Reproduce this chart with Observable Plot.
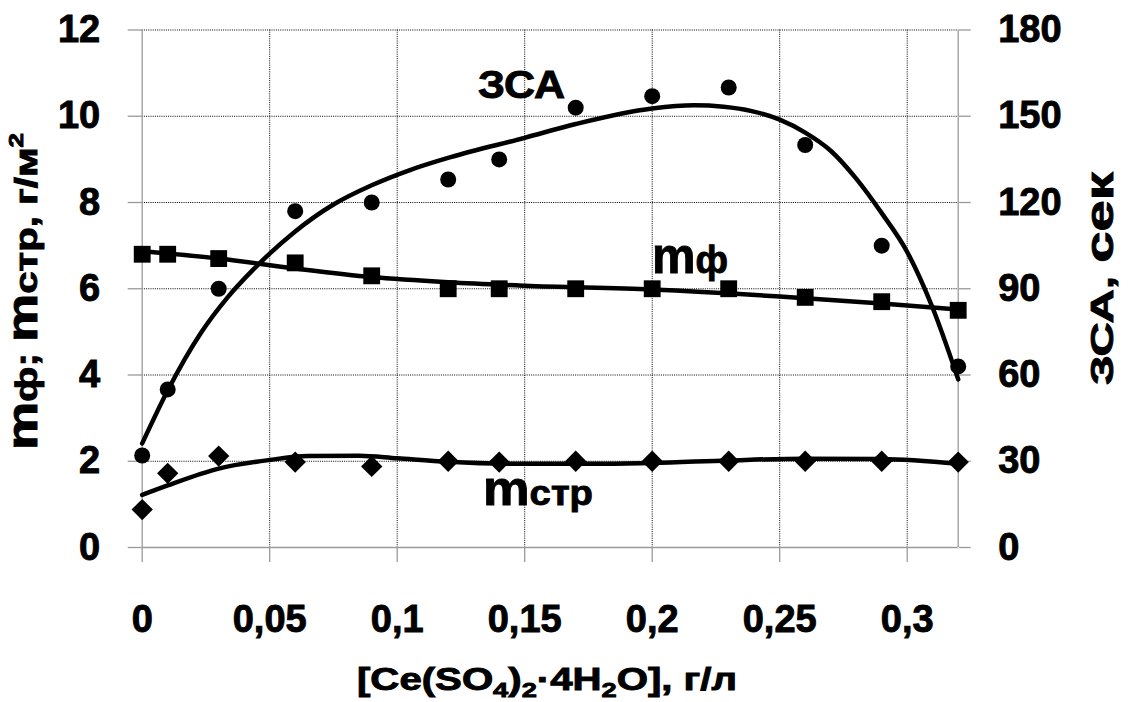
<!DOCTYPE html>
<html>
<head>
<meta charset="utf-8">
<script src="https://cdn.jsdelivr.net/npm/d3@7"></script>
<script src="https://cdn.jsdelivr.net/npm/@observablehq/plot@0.6"></script>
<style>
  html, body { margin: 0; padding: 0; background: #fff; }
  svg { display: block; }
  #chart svg text { stroke: #000; stroke-width: 0.9px; paint-order: stroke; }
</style>
</head>
<body>
<div id="chart"></div>
<script>
// ---- data ----
const conc = [0, 0.01, 0.03, 0.06, 0.09, 0.12, 0.14, 0.17, 0.2, 0.23, 0.26, 0.29, 0.32];
const zsa  = [32, 55, 90, 117, 120, 128, 135, 153, 157, 160, 140, 105, 63];          // ЗСА, сек (right axis)
const mf   = [6.8, 6.8, 6.7, 6.6, 6.3, 6.0, 6.0, 6.0, 6.0, 6.0, 5.8, 5.7, 5.5];      // mф, г/м²
const mstr = [0.88, 1.72, 2.12, 1.98, 1.88, 2.0, 1.98, 2.0, 2.0, 2.0, 2.0, 2.0, 1.98]; // mстр, г/м²

// trend lines as drawn in the picture
const zsaFitX  = [0, 0.01, 0.023, 0.0335, 0.0437, 0.0594, 0.075, 0.09, 0.105, 0.121, 0.15, 0.17, 0.2, 0.2165, 0.228, 0.239, 0.25, 0.26, 0.27, 0.28, 0.29, 0.3, 0.31, 0.32];
const zsaFit   = [36.2, 54.6, 74.6, 87, 96.8, 109.5, 119.3, 126, 131.3, 135.8, 142.5, 147.3, 152.7, 153.8, 153.3, 151.8, 148.8, 144.3, 138, 128.3, 116.3, 102.8, 83.3, 58.5];
const mfFitX   = [0, 0.03, 0.06, 0.09, 0.12, 0.15, 0.2, 0.25, 0.29, 0.32];
const mfFit    = [6.87, 6.7, 6.47, 6.27, 6.15, 6.07, 5.98, 5.82, 5.66, 5.52];
const mstrFitX = [0, 0.01, 0.03, 0.05, 0.065, 0.085, 0.1, 0.12, 0.15, 0.17, 0.2, 0.23, 0.26, 0.29, 0.32];
const mstrFit  = [1.22, 1.44, 1.83, 2.03, 2.12, 2.13, 2.07, 1.99, 1.94, 1.94, 1.96, 2.02, 2.06, 2.05, 1.94];

// ticks
const xTicks = [0, 0.05, 0.1, 0.15, 0.2, 0.25, 0.3];
const yTicks = [0, 2, 4, 6, 8, 10, 12];
const yRightFactor = 15; // 12 -> 180

// texts
const labelZSA = "ЗСА";
const labelMf = ["m", "ф"];
const labelMstr = ["m", "стр"];
const rightLabel = ["ЗСА, ", "сек"];
const leftLabel = ["m", "ф; ", "m", "стр, г/м", "2"];
const xLabel = ["[Ce(SO", "4", ")", "2", "·4H", "2", "O], г/л"];

const FONT = "'Liberation Sans', Arial, Helvetica, sans-serif";

const pts = conc.map((x, i) => ({x, zsa: zsa[i], mf: mf[i], mstr: mstr[i]}));
const zsaLine = zsaFitX.map((x, i) => ({x, y: zsaFit[i]}));
const mfLine = mfFitX.map((x, i) => ({x, y: mfFit[i]}));
const mstrLine = mstrFitX.map((x, i) => ({x, y: mstrFit[i]}));

const fmtX = d => String(d).replace(".", ",");
const gridStyle = {stroke: "#000", strokeOpacity: 1, strokeWidth: 1, strokeDasharray: "1,1.2"};

const plot = Plot.plot({
  width: 1131,
  height: 702,
  marginLeft: 141.7,
  marginRight: 173.3,
  marginTop: 29.5,
  marginBottom: 155,
  style: {fontFamily: FONT, background: "#fff", color: "#000"},
  x: {domain: [0, 0.32]},
  y: {domain: [0, 12]},
  marks: [
    Plot.gridX(xTicks.filter(d => d > 0), gridStyle),
    Plot.gridY(yTicks.filter(d => d > 0), gridStyle),
    Plot.ruleX([0, 0.32], {stroke: "#9a9a9a", strokeWidth: 1.3}),
    Plot.ruleY([0], {stroke: "#9a9a9a", strokeWidth: 1.3}),
    Plot.axisX(xTicks, {tickSize: 15, tickPadding: 43, fontSize: 38, fontWeight: "bold",
      stroke: "#9a9a9a", strokeWidth: 1.3, tickFormat: fmtX, label: null, fill: "#000"}),
    Plot.axisY(yTicks, {anchor: "left", tickSize: 14, tickPadding: 28, fontSize: 38, fontWeight: "bold",
      stroke: "#9a9a9a", strokeWidth: 1.3, label: null, fill: "#000"}),
    Plot.axisY(yTicks, {anchor: "right", tickSize: 12, tickPadding: 28, fontSize: 38, fontWeight: "bold",
      stroke: "#9a9a9a", strokeWidth: 1.3, label: null, fill: "#000", tickFormat: d => d * yRightFactor}),
    Plot.line(zsaLine, {x: "x", y: d => d.y / yRightFactor, curve: "monotone-x", stroke: "#000", strokeWidth: 4.5}),
    Plot.line(mfLine, {x: "x", y: "y", curve: "monotone-x", stroke: "#000", strokeWidth: 4.5}),
    Plot.line(mstrLine, {x: "x", y: "y", curve: "monotone-x", stroke: "#000", strokeWidth: 4.5}),
    Plot.dot(pts, {x: "x", y: d => d.zsa / yRightFactor, symbol: "circle", r: 8, fill: "#000"}),
    Plot.dot(pts, {x: "x", y: "mf", symbol: "square", r: 9.5, fill: "#000"}),
    Plot.dot(pts, {x: "x", y: "mstr", symbol: "diamond2", r: 9.6, fill: "#000"})
  ]
});

document.getElementById("chart").appendChild(plot);
const svg = d3.select(plot);

function addText(opts, parts) {
  const t = svg.append("text")
    .attr("font-family", FONT)
    .attr("font-weight", "bold")
    .attr("fill", "#000")
    .attr("text-anchor", opts.anchor || "start");
  if (opts.transform) t.attr("transform", opts.transform);
  if (opts.x != null) t.attr("x", opts.x);
  if (opts.y != null) t.attr("y", opts.y);
  if (opts.textLength) t.attr("textLength", opts.textLength).attr("lengthAdjust", "spacingAndGlyphs");
  parts.forEach(p => {
    const s = t.append("tspan").attr("font-size", p.size).text(p.text);
    if (p.dy) s.attr("dy", p.dy);
  });
  return t;
}

// annotations
addText({x: 478, y: 98, textLength: 87}, [{text: labelZSA, size: 38}]);
addText({x: 652, y: 273, textLength: 76}, [{text: labelMf[0], size: 50}, {text: labelMf[1], size: 38}]);
addText({x: 483, y: 505, textLength: 110}, [{text: labelMstr[0], size: 48}, {text: labelMstr[1], size: 35}]);

// left axis label (rotated)
addText({transform: "translate(37,450) rotate(-90)", textLength: 317}, [
  {text: leftLabel[0], size: 42},
  {text: leftLabel[1], size: 31},
  {text: leftLabel[2], size: 42},
  {text: leftLabel[3], size: 31},
  {text: leftLabel[4], size: 20, dy: -14}
]);

// right axis label (rotated)
addText({transform: "translate(1113,385) rotate(-90)", textLength: 213}, [
  {text: rightLabel[0], size: 32},
  {text: rightLabel[1], size: 38}
]);

// x axis label with subscripts
addText({x: 357, y: 690, textLength: 380}, [
  {text: xLabel[0], size: 31},
  {text: xLabel[1], size: 21, dy: 7},
  {text: xLabel[2], size: 31, dy: -7},
  {text: xLabel[3], size: 21, dy: 7},
  {text: xLabel[4], size: 31, dy: -7},
  {text: xLabel[5], size: 21, dy: 7},
  {text: xLabel[6], size: 31, dy: -7}
]);
</script>
</body>
</html>
